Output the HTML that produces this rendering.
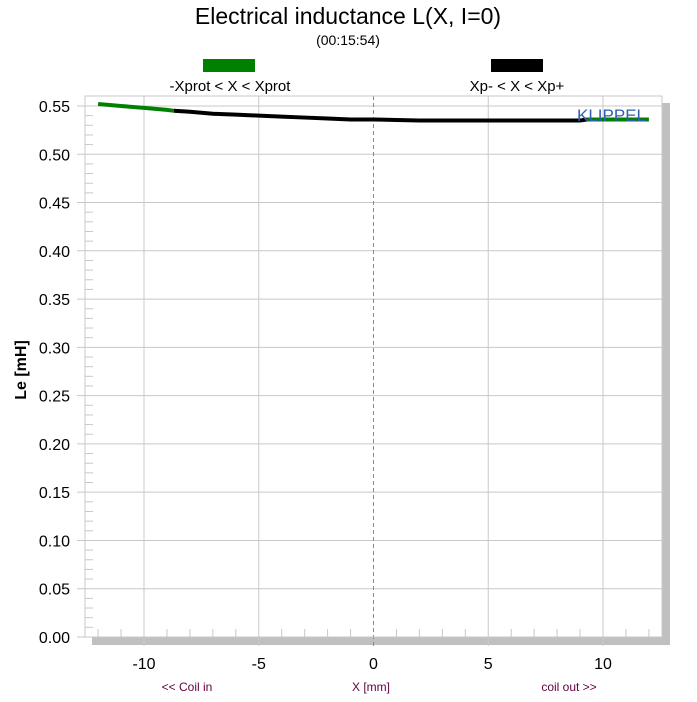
<!DOCTYPE html>
<html><head><meta charset="utf-8"><style>
body{margin:0;background:#fff;font-family:"Liberation Sans",Arial,sans-serif}
svg text{font-family:"Liberation Sans",Arial,sans-serif}
</style></head><body>
<svg id="chart" width="697" height="697" xmlns="http://www.w3.org/2000/svg">
<text x="348" y="24" font-size="23" text-anchor="middle">Electrical inductance L(X, I=0)</text>
<text x="348" y="45" font-size="14" text-anchor="middle">(00:15:54)</text>
<rect x="203" y="59" width="52" height="13" fill="#008000"/>
<text x="230" y="91" font-size="15" text-anchor="middle">-Xprot &lt; X &lt; Xprot</text>
<rect x="491" y="59" width="52" height="13" fill="#000"/>
<text x="517" y="91" font-size="15" text-anchor="middle">Xp- &lt; X &lt; Xp+</text>
<rect x="662" y="103" width="8" height="542" fill="#c0c0c0"/>
<rect x="92" y="637" width="578" height="8" fill="#c0c0c0"/>
<g id="grid"></g>
<rect x="85" y="96" width="577" height="541" fill="none" stroke="#c8c8c8"/>
<text x="22" y="370" font-size="16" font-weight="bold" transform="rotate(-90 22 370)" text-anchor="middle" dominant-baseline="middle">Le [mH]</text>
<text x="187" y="691" font-size="12" fill="#600040" text-anchor="middle">&lt;&lt; Coil in</text>
<text x="371" y="691" font-size="12" fill="#600040" text-anchor="middle">X [mm]</text>
<text x="569" y="691" font-size="12" fill="#600040" text-anchor="middle">coil out &gt;&gt;</text>
<g id="series"></g>
<text x="577" y="121" font-size="17" fill="#3060b0">KLIPPEL</text>
</svg>
<script>
const xTicks=[-10,-5,0,5,10];
const yTicks=[0,0.05,0.10,0.15,0.20,0.25,0.30,0.35,0.40,0.45,0.50,0.55];
const xs=[-12,-11,-10,-9,-8.7,-8,-7,-6,-5,-4,-3,-2,-1,0,1,2,3,4,5,6,7,8,9,9.3,10,11,12];
const le=[0.552,0.550,0.548,0.546,0.545,0.544,0.542,0.541,0.540,0.539,0.538,0.537,0.536,0.536,0.5355,0.535,0.535,0.535,0.535,0.535,0.535,0.535,0.535,0.536,0.536,0.536,0.536];
const segLo=-8.7, segHi=9.3;
const X=v=>373.5+v*22.95, Y=v=>637-v*965.5;
const NS="http://www.w3.org/2000/svg";
const g=document.getElementById('grid'), s=document.getElementById('series');
function mk(t,a,p){const e=document.createElementNS(NS,t);for(const k in a)e.setAttribute(k,a[k]);p.appendChild(e);return e;}
yTicks.forEach(v=>{
 const l=mk('line',{x1:77,x2:662,y1:Y(v),y2:Y(v),stroke:'#c8c8c8'},g);
 
 
 const t=mk('text',{x:70,y:Y(v)+6,'font-size':16,'text-anchor':'end'},g);t.textContent=v.toFixed(2);
 
 
});
for(let v=0.01;v<0.555;v+=0.01){if(Math.round(v*100)%5===0)continue;
 const l=mk('line',{x1:85,x2:93,y1:Y(v),y2:Y(v),stroke:'#c8c8c8'},g);
 
 }
for(let v=-12;v<=12;v++){if(v%5===0)continue;
 const l=mk('line',{x1:X(v),x2:X(v),y1:629,y2:637,stroke:'#c8c8c8'},g);
 
 }
xTicks.forEach(v=>{
 const l=mk('line',{x1:X(v),x2:X(v),y1:96,y2:646,stroke:v===0?'#888':'#c8c8c8','stroke-dasharray':v===0?'4,3':'none'},g);
 
 
 const t=mk('text',{x:X(v),y:669,'font-size':16,'text-anchor':'middle'},g);t.textContent=v;
 
 
});
function poly(f,col,name){const pts=xs.map((x,i)=>[x,le[i]]).filter(p=>f(p[0])).map(p=>X(p[0])+','+Y(p[1])).join(' ');
 const e=mk('polyline',{points:pts,fill:'none',stroke:col,'stroke-width':4},s);
 
 }
poly(x=>x<=segLo,'#008000','series-green-left');
poly(x=>x>=segHi,'#008000','series-green-right');
poly(x=>x>=segLo&&x<=segHi,'#000','series-black');
</script>
</body></html>
